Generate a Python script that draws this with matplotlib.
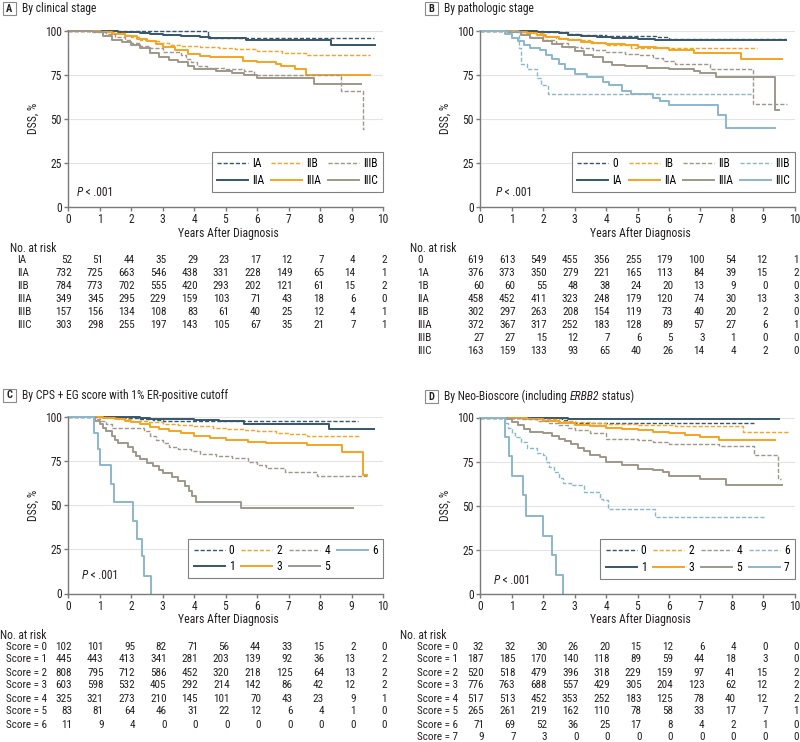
import matplotlib
matplotlib.use("Agg")
import matplotlib.pyplot as plt
import matplotlib.transforms as mtransforms
from matplotlib import font_manager
from matplotlib.lines import Line2D
from matplotlib.patches import Rectangle

# look for a narrow sans first; the journal figure uses a condensed face
narrow_names = ["Liberation Sans Narrow", "Roboto Condensed", "Open Sans Condensed",
                "Arial Narrow", "DejaVu Sans Condensed"]
installed = {f.name for f in font_manager.fontManager.ttflist}
condensed = {f.name for f in font_manager.fontManager.ttflist
             if str(f.stretch) in ("condensed", "semi-condensed")}
base_font, stretch = "Lato", "normal"
for n in narrow_names:
    if n in installed:
        base_font = n
        break
else:
    for n in ["Roboto", "Open Sans", "DejaVu Sans", "Noto Sans"]:
        if n in condensed:
            base_font, stretch = n, "condensed"
            break
found_narrow = base_font != "Lato"
plt.rcParams['font.family'] = [base_font, 'DejaVu Sans']
plt.rcParams['font.stretch'] = stretch

FS = 8.0 if found_narrow else 7.4   # table / tick text size
TS = 8.4 if found_narrow else 7.8   # panel titles

DARK = "#35566b"
ORANGE = "#f6a31e"
TAUPE = "#a0978a"
LIGHT = "#8cb7cb"
TEXT = "#231f20"
AXIS = "#7a7a7a"

years = list(range(11))

# ---------- A: clinical stage ----------
a_names = ["IA", "IIA", "IIB", "IIIA", "IIIB", "IIIC"]
a_times = [
    [0, 4.45, 9.7],
    [0, 1.6, 2.0, 2.3, 2.6, 3.0, 3.6, 4.2, 4.5, 5.65, 8.35, 9.75],
    [0, 1.2, 1.5, 1.8, 2.0, 2.3, 2.6, 2.9, 3.2, 3.6, 4.2, 4.8, 5.3, 6.0, 6.8, 7.55, 9.6],
    [0, 1.0, 1.4, 1.8, 2.2, 2.5, 2.8, 3.0, 3.4, 3.8, 4.2, 4.5, 5.55, 6.0, 6.6, 6.75, 7.2, 7.55, 9.6],
    [0, 0.8, 1.2, 1.5, 1.8, 2.0, 2.3, 2.6, 3.0, 3.6, 3.75, 3.9, 4.1, 4.4, 5.0, 5.6, 5.9, 8.68, 9.35, 9.4],
    [0, 0.8, 1.1, 1.4, 1.7, 2.0, 2.3, 2.6, 2.9, 3.2, 3.5, 3.8, 4.0, 4.7, 5.2, 5.6, 6.0, 7.8, 9.3],
]
a_surv = [
    [100, 96, 96],
    [100, 99.5, 99, 98.5, 98, 97.5, 97, 96.5, 96, 94.5, 92, 92],
    [100, 99.5, 98.5, 97.5, 96.5, 95, 94, 93, 92, 91.5, 91, 90, 89.5, 88.5, 87.5, 86.2, 86.2],
    [100, 99, 98, 97, 95.5, 94, 92.5, 91, 89, 87, 85.5, 85, 83, 82, 81, 80, 78, 75, 75],
    [100, 99, 98, 96.5, 95, 93, 91.5, 90, 88, 86.5, 84, 82, 80, 79, 78, 77, 75, 66, 44, 44],
    [100, 99, 97, 95, 93.5, 92, 90, 87.5, 85, 83.5, 82, 80, 78, 77, 76, 75, 73, 70, 70],
]
a_risk = [
    [52, 51, 44, 35, 29, 23, 17, 12, 7, 4, 2],
    [732, 725, 663, 546, 438, 331, 228, 149, 65, 14, 1],
    [784, 773, 702, 555, 420, 293, 202, 121, 61, 15, 2],
    [349, 345, 295, 229, 159, 103, 71, 43, 18, 6, 0],
    [157, 156, 134, 108, 83, 61, 40, 25, 12, 4, 1],
    [303, 298, 255, 197, 143, 105, 67, 35, 21, 7, 1],
]

# ---------- B: pathologic stage ----------
b_names = ["0", "IA", "IB", "IIA", "IIB", "IIIA", "IIIB", "IIIC"]
b_risk_names = ["0", "1A", "1B", "IIA", "IIB", "IIIA", "IIIB", "IIIC"]
b_times = [
    [0, 2.0, 2.4, 2.8, 3.2, 4.0, 5.0, 5.6, 6.0, 9.7],
    [0, 1.8, 2.2, 2.5, 2.8, 3.2, 3.7, 4.2, 5.0, 5.55, 9.7],
    [0, 1.3, 1.6, 2.0, 2.4, 2.8, 3.2, 3.5, 4.0, 4.8, 8.8],
    [0, 1.2, 1.5, 1.8, 2.1, 2.5, 2.8, 3.2, 3.6, 4.0, 4.6, 5.0, 5.6, 6.0, 6.8, 8.3, 9.6],
    [0, 1.0, 1.3, 1.6, 2.0, 2.4, 2.8, 3.2, 3.6, 4.0, 4.6, 5.0, 5.5, 5.8, 6.2, 7.3, 8.68, 9.75],
    [0, 0.9, 1.3, 1.6, 2.0, 2.3, 2.6, 3.0, 3.3, 3.6, 3.9, 4.2, 4.6, 5.3, 6.0, 6.8, 7.0, 7.5, 9.35, 9.5],
    [0, 1.25, 1.3, 1.5, 1.8, 1.95, 2.15, 8.67],
    [0, 0.8, 1.0, 1.2, 1.4, 1.6, 1.9, 2.1, 2.3, 2.5, 2.7, 3.0, 3.4, 3.9, 4.1, 4.5, 4.8, 5.5, 5.7, 6.0, 7.55, 7.8, 9.35],
]
b_surv = [
    [100, 99.5, 99, 98, 97.5, 97, 96.8, 96.2, 95.5, 95.5],
    [100, 99.5, 99, 98.5, 97.5, 97, 96.5, 96, 95.5, 94.5, 94.5],
    [100, 99.5, 98.5, 97, 96, 95.5, 94.5, 93, 92, 90, 90],
    [100, 99.5, 98.5, 97.5, 96.5, 95.5, 94.5, 93.5, 93, 92.5, 92, 91, 90, 89, 87.5, 84, 84],
    [100, 99, 98, 96.5, 95, 93, 91, 90, 89, 88, 87, 86, 84.5, 83, 81, 78, 58.5, 58.5],
    [100, 99, 97.5, 96, 94, 92.5, 91, 88.5, 86.5, 85, 82, 80.5, 80, 79, 78, 77, 76, 74, 55, 55],
    [100, 90, 81, 78, 73, 69, 64, 64],
    [100, 98, 96, 94, 92, 90, 89, 86, 84, 81, 78, 75.5, 73.5, 71, 69, 66, 64, 62, 60, 58, 52, 45, 45],
]
b_risk = [
    [619, 613, 549, 455, 356, 255, 179, 100, 54, 12, 1],
    [376, 373, 350, 279, 221, 165, 113, 84, 39, 15, 2],
    [60, 60, 55, 48, 38, 24, 20, 13, 9, 0, 0],
    [458, 452, 411, 323, 248, 179, 120, 74, 30, 13, 3],
    [302, 297, 263, 208, 154, 119, 73, 40, 20, 2, 0],
    [372, 367, 317, 252, 183, 128, 89, 57, 27, 6, 1],
    [27, 27, 15, 12, 7, 6, 5, 3, 1, 0, 0],
    [163, 159, 133, 93, 65, 40, 26, 14, 4, 2, 0],
]

# ---------- C: CPS + EG score ----------
c_names = ["0", "1", "2", "3", "4", "5", "6"]
c_times = [
    [0, 1.8, 2.3, 2.7, 3.0, 9.2],
    [0, 2.3, 2.6, 3.2, 4.0, 4.8, 5.6, 8.3, 9.7],
    [0, 1.2, 1.6, 2.0, 2.5, 3.0, 3.5, 4.0, 4.6, 5.0, 5.6, 6.0, 6.6, 7.0, 7.6, 9.25],
    [0, 1.1, 1.5, 1.8, 2.0, 2.3, 2.6, 2.9, 3.2, 3.6, 4.0, 4.5, 5.0, 5.7, 6.3, 7.6, 8.7, 9.38, 9.48],
    [0, 0.9, 1.0, 1.2, 1.4, 2.4, 2.6, 2.8, 3.0, 3.2, 3.5, 3.9, 4.2, 4.7, 5.2, 5.7, 6.0, 6.3, 6.9, 7.9, 9.5],
    [0, 0.85, 1.0, 1.1, 1.2, 1.4, 1.5, 1.6, 1.9, 2.05, 2.15, 2.3, 2.5, 2.7, 2.9, 3.0, 3.3, 3.5, 3.7, 3.85, 3.95, 4.05, 5.5, 9.05],
    [0, 0.82, 0.95, 1.0, 1.35, 1.45, 2.05, 2.2, 2.35, 2.4, 2.65],
]
c_surv = [
    [100, 99.5, 99, 98.5, 98, 98],
    [100, 99.5, 99, 98.8, 98.5, 98, 96.2, 93, 93],
    [100, 99.5, 99, 98, 97, 96, 95.5, 95, 94, 93, 92.5, 92, 91, 90.5, 89, 89],
    [100, 99.5, 99, 98, 97, 96, 94.5, 93, 92, 91, 89, 88, 87, 86, 85, 84, 80, 67, 67],
    [100, 99, 98, 96, 94, 92, 89.5, 87, 85, 83, 82, 81, 79, 78, 76.5, 74.5, 73, 71, 69, 66.8, 66.8],
    [100, 98, 96, 94, 92, 89.5, 87, 85, 83, 80, 78, 76, 74, 72, 70, 68, 66, 64, 61, 58, 55, 52, 48.5, 48.5],
    [100, 91, 82, 73, 62, 52, 41, 31, 21, 10, 0],
]
c_risk = [
    [102, 101, 95, 82, 71, 56, 44, 33, 15, 2, 0],
    [445, 443, 413, 341, 281, 203, 139, 92, 36, 13, 2],
    [808, 795, 712, 586, 452, 320, 218, 125, 64, 13, 2],
    [603, 598, 532, 405, 292, 214, 142, 86, 42, 12, 2],
    [325, 321, 273, 210, 145, 101, 70, 43, 23, 9, 1],
    [83, 81, 64, 46, 31, 22, 12, 6, 4, 1, 0],
    [11, 9, 4, 0, 0, 0, 0, 0, 0, 0, 0],
]

# ---------- D: Neo-Bioscore ----------
d_names = ["0", "1", "2", "3", "4", "5", "6", "7"]
d_times = [
    [0, 2.4, 2.6, 2.75, 2.9, 8.7],
    [0, 2.8, 9.5],
    [0, 1.2, 1.6, 2.0, 2.5, 3.0, 3.5, 4.0, 5.0, 5.8, 6.2, 8.35, 9.8],
    [0, 1.0, 1.5, 2.0, 2.5, 3.0, 3.5, 4.0, 4.5, 5.0, 5.5, 6.0, 6.5, 7.0, 7.6, 9.35],
    [0, 0.9, 1.3, 1.8, 2.2, 2.5, 2.8, 3.0, 3.5, 4.0, 5.0, 5.5, 6.0, 7.6, 8.7, 9.45, 9.55],
    [0, 0.85, 1.0, 1.2, 1.4, 1.6, 2.0, 2.3, 2.5, 2.7, 2.9, 3.1, 3.3, 3.5, 3.8, 4.0, 4.5, 5.0, 5.5, 5.8, 6.0, 7.0, 7.8, 9.6],
    [0, 0.8, 0.9, 1.0, 1.1, 1.3, 1.5, 1.8, 2.0, 2.1, 2.2, 2.35, 2.5, 2.65, 2.9, 3.3, 3.8, 3.9, 4.05, 5.55, 9.05],
    [0, 0.8, 0.92, 1.0, 1.35, 1.45, 2.0, 2.3, 2.4, 2.65],
]
d_surv = [
    [100, 99.5, 98.5, 97.5, 96.8, 96.8],
    [100, 99, 99],
    [100, 99.7, 99.3, 99, 98, 97.3, 97, 96.5, 96, 95.5, 95, 92, 92],
    [100, 99.5, 99, 98, 97, 96, 95, 94, 93.5, 93, 92, 91, 90, 89, 87.5, 87.5],
    [100, 99.5, 99, 98, 97, 96, 94, 93, 91, 88, 87, 86, 85, 84, 79, 65, 65],
    [100, 99, 97.5, 95.5, 93.5, 92, 91, 89.5, 88, 86.5, 85, 83, 81, 79, 77.5, 75, 73, 71, 70, 69, 67, 65, 61.5, 61.5],
    [100, 97, 94, 91, 89, 86, 83, 80, 79, 75, 72, 69, 66, 63, 61.5, 58, 54, 53, 48, 43.5, 43.5],
    [100, 89, 78, 67, 56, 44, 33, 22, 11, 0],
]
d_risk = [
    [32, 32, 30, 26, 20, 15, 12, 6, 4, 0, 0],
    [187, 185, 170, 140, 118, 89, 59, 44, 18, 3, 0],
    [520, 518, 479, 396, 318, 229, 159, 97, 41, 15, 2],
    [776, 763, 688, 557, 429, 305, 204, 123, 62, 12, 2],
    [517, 513, 452, 353, 252, 183, 125, 78, 40, 12, 2],
    [265, 261, 219, 162, 110, 78, 58, 33, 17, 7, 1],
    [71, 69, 52, 36, 25, 17, 8, 4, 2, 1, 0],
    [9, 7, 3, 0, 0, 0, 0, 0, 0, 0, 0],
]

a_style = [(DARK, True), (DARK, False), (ORANGE, True), (ORANGE, False), (TAUPE, True), (TAUPE, False)]
b_style = [(DARK, True), (DARK, False), (ORANGE, True), (ORANGE, False),
           (TAUPE, True), (TAUPE, False), (LIGHT, True), (LIGHT, False)]
c_style = [(DARK, True), (DARK, False), (ORANGE, True), (ORANGE, False),
           (TAUPE, True), (TAUPE, False), (LIGHT, False)]
d_style = b_style

W, H = 800, 742
fig = plt.figure(figsize=(W / 100, H / 100), dpi=100)
renderer = fig.canvas.get_renderer()


def add_axes_px(l, t, r, b):
    return fig.add_axes([l / W, 1 - b / H, (r - l) / W, (b - t) / H])


def text_width(s, size, style):
    probe = fig.text(0, 0, "X" + s + "X", fontsize=size, style=style)
    ref = fig.text(0, 0, "XX", fontsize=size, style=style)
    w = probe.get_window_extent(renderer).width - ref.get_window_extent(renderer).width
    probe.remove()
    ref.remove()
    return w


def rich_text(x_px, y_px, parts, size):
    x = x_px
    for s, style in parts:
        fig.text(x / W, 1 - y_px / H, s, fontsize=size, style=style,
                 va="center", ha="left", color=TEXT)
        x += text_width(s, size, style)


def panel_title(x_px, y_px, letter, parts):
    fig.add_artist(Rectangle((x_px / W, 1 - (y_px + 6.5) / H), 13 / W, 13 / H,
                             transform=fig.transFigure, fill=False, ec="#8a8a8a", lw=0.8))
    fig.text((x_px + 6.5) / W, 1 - y_px / H, letter, fontsize=7.5, weight="bold",
             ha="center", va="center", color=TEXT)
    rich_text(x_px + 19, y_px, parts, TS)


def km_panel(ax, names, times, surv, styles, ncol, p_xy):
    handles = []
    for t, s, (color, dashed), name in zip(times, surv, styles, names):
        if dashed:
            ln, = ax.step(t, s, where="post", color=color, lw=1.0, dashes=(3, 1.4), clip_on=False)
        else:
            ln, = ax.step(t, s, where="post", color=color, lw=1.4, clip_on=False)
        handles.append(Line2D([], [], color=color, lw=ln.get_linewidth(),
                              dashes=(3, 1.4) if dashed else (None, None)))
    ax.set_xlim(0, 10)
    ax.set_ylim(0, 100)
    ax.set_xticks(years)
    ax.set_yticks([0, 25, 50, 75, 100])
    for sp in ("top", "right"):
        ax.spines[sp].set_visible(False)
    for sp in ("left", "bottom"):
        ax.spines[sp].set_color(AXIS)
        ax.spines[sp].set_linewidth(1.0)
    ax.tick_params(length=3, width=1, color=AXIS, labelsize=FS + 0.3, labelcolor=TEXT, pad=1.5)
    ax.grid(axis="y", color="#e4e4e4", lw=0.8)
    ax.set_axisbelow(True)
    ax.set_ylabel("DSS, %", fontsize=FS + 0.5, color=TEXT, labelpad=4)
    leg = ax.legend(handles, names, ncol=ncol, loc="lower right", bbox_to_anchor=(1.0, 0.085),
                    borderaxespad=0, frameon=True, fancybox=False, edgecolor="#808080",
                    framealpha=1, handlelength=2.7, handletextpad=0.35, columnspacing=0.6,
                    labelspacing=0.3, borderpad=0.45, fontsize=FS + 0.3)
    leg.get_frame().set_linewidth(0.8)
    px = ax.transData.transform(p_xy)
    rich_text(px[0], H - px[1], [("P", "italic"), (" < .001", "normal")], FS + 0.3)


def risk_table(ax, labels, rows, head_y, label_x, head_x):
    tr = mtransforms.blended_transform_factory(ax.transData, fig.transFigure)
    ax.text(5.1, 1 - head_y / H, "Years After Diagnosis", transform=tr, ha="center",
            va="center", fontsize=FS + 0.5, color=TEXT)
    ax.text(head_x, 1 - (head_y + 15.5) / H, "No. at risk", transform=tr, ha="left",
            va="center", fontsize=FS + 0.3, color=TEXT)
    for i, (lab, vals) in enumerate(zip(labels, rows)):
        y = 1 - (head_y + 26.5 + 13.0 * i) / H
        ax.text(label_x, y, lab, transform=tr, ha="left", va="center", fontsize=FS, color=TEXT)
        for yr, v in zip(years, vals):
            ax.text(yr + 0.13, y, str(v), transform=tr, ha="right", va="center",
                    fontsize=FS, color=TEXT)


axA = add_axes_px(68, 30.7, 383, 207)
axB = add_axes_px(480, 30.7, 795, 207)
axC = add_axes_px(68, 417, 383, 593.5)
axD = add_axes_px(480, 417.5, 795, 594)

km_panel(axA, a_names, a_times, a_surv, a_style, 3, (0.28, 8))
km_panel(axB, b_names, b_times, b_surv, b_style, 4, (0.5, 8))
km_panel(axC, c_names, c_times, c_surv, c_style, 4, (0.45, 10))
km_panel(axD, d_names, d_times, d_surv, d_style, 4, (0.45, 7.5))

risk_table(axA, a_names, a_risk, 233.5, -1.62, -1.84)
risk_table(axB, b_risk_names, b_risk, 233.5, -2.0, -2.22)
risk_table(axC, ["Score = %d" % i for i in range(7)], c_risk, 620, -1.98, -2.16)
risk_table(axD, ["Score = %d" % i for i in range(8)], d_risk, 620, -2.0, -2.54)

panel_title(3, 8.5, "A", [("By clinical stage", "normal")])
panel_title(425, 8.5, "B", [("By pathologic stage", "normal")])
panel_title(3, 395, "C", [("By CPS + EG score with 1% ER-positive cutoff", "normal")])
panel_title(425, 396.5, "D", [("By Neo-Bioscore (including ", "normal"), ("ERBB2", "italic"),
                               (" status)", "normal")])

fig.savefig("out.png", dpi=100, facecolor="white")
